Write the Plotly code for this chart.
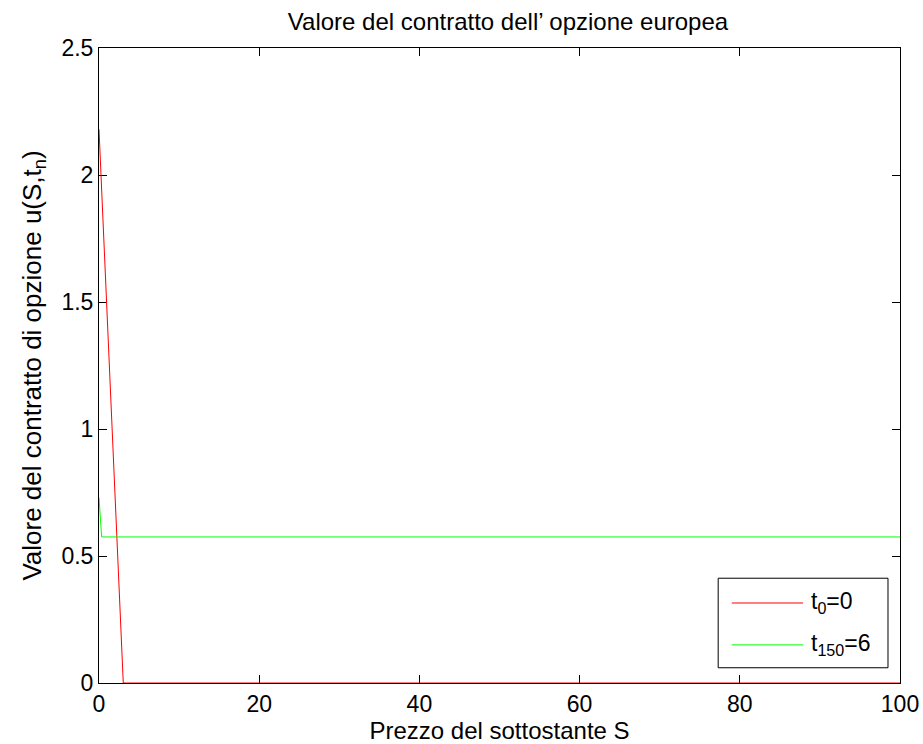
import plotly.graph_objects as go

# Data
s_t0 = [0, 3.03, 100]
u_t0 = [2.18, 0, 0]
s_t150 = [0, 0.33, 100]
u_t150 = [0.73, 0.575, 0.575]

series_names = ["t<sub>0</sub>=0", "t<sub>150</sub>=6"]
series_colors = ["#ff0000", "#00ff00"]

x_ticks = [0, 20, 40, 60, 80, 100]
y_ticks = [0, 0.5, 1, 1.5, 2, 2.5]
y_tick_labels = ["0", "0.5", "1", "1.5", "2", "2.5"]

FONT = "Liberation Sans, Arial, sans-serif"
FS = 23

fig = go.Figure()
fig.add_trace(go.Scatter(x=s_t0, y=u_t0, mode="lines",
                         line=dict(color=series_colors[0], width=1),
                         name=series_names[0], showlegend=False))
fig.add_trace(go.Scatter(x=s_t150, y=u_t150, mode="lines",
                         line=dict(color=series_colors[1], width=1),
                         name=series_names[1], showlegend=False))

axis_common = dict(showline=True, linecolor="black", linewidth=1, mirror="ticks",
                   ticks="inside", ticklen=8, tickcolor="black", showgrid=False,
                   zeroline=False, layer="below traces", automargin=False,
                   tickfont=dict(family=FONT, size=FS, color="black"))

# MATLAB-style legend box (lower right, inside the axes)
box = dict(x0=0.773, x1=0.985, y0=0.024, y1=0.165)
fig.add_shape(type="rect", xref="x domain", yref="y domain",
              x0=box["x0"], x1=box["x1"], y0=box["y0"], y1=box["y1"],
              line=dict(color="black", width=1), fillcolor="white", layer="above")
entry_y = [0.126, 0.060]
for name, color, ey in zip(series_names, series_colors, entry_y):
    fig.add_shape(type="line", xref="x domain", yref="y domain",
                  x0=0.790, x1=0.879, y0=ey, y1=ey,
                  line=dict(color=color, width=1), layer="above")
    fig.add_annotation(xref="x domain", yref="y domain", x=0.887, y=ey,
                       xanchor="left", yanchor="middle", showarrow=False,
                       text=name, font=dict(family=FONT, size=FS, color="black"))

fig.update_layout(
    width=923, height=744,
    margin=dict(l=99, r=23, t=48, b=61),
    paper_bgcolor="white", plot_bgcolor="white",
    font=dict(family=FONT, size=FS, color="black"),
    title=dict(text="Valore del contratto dell’ opzione europea", x=0.5504, xanchor="center",
               xref="container", y=0.9704, yanchor="middle",
               font=dict(family=FONT, size=24, color="black")),
    xaxis=dict(range=[0, 100], tickvals=x_ticks,
               title=dict(text="Prezzo del sottostante S", standoff=4,
                          font=dict(family=FONT, size=24)),
               **axis_common),
    yaxis=dict(range=[0, 2.5], tickvals=y_ticks, ticktext=y_tick_labels,
               title=dict(text="Valore del contratto di opzione u(S,t<sub>n</sub>)", standoff=12,
                          font=dict(family=FONT, size=26)),
               **axis_common),
    showlegend=False,
)

fig.write_html("out.html",
               config={"displayModeBar": False},
               post_script="document.body.style.margin='0';document.body.style.overflow='hidden';")
